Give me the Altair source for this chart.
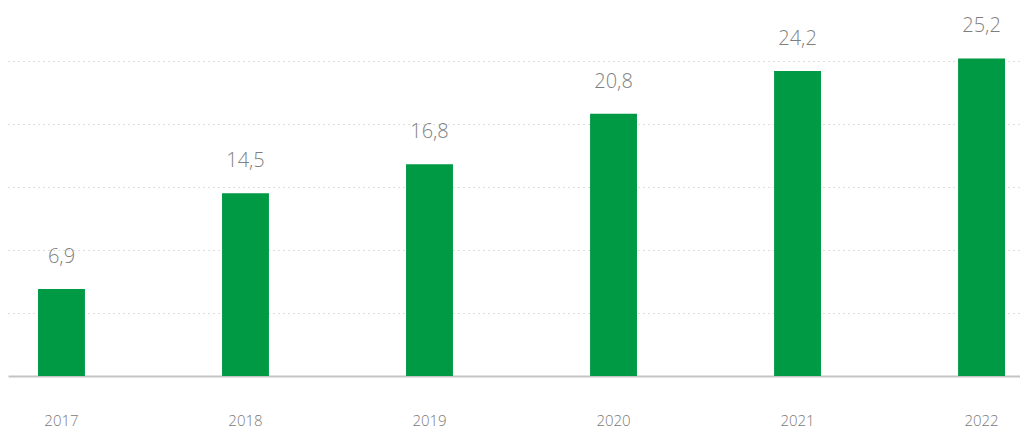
import altair as alt
import pandas as pd

years = ["2017", "2018", "2019", "2020", "2021", "2022"]
values = [6.9, 14.5, 16.8, 20.8, 24.2, 25.2]
labels = ["6,9", "14,5", "16,8", "20,8", "24,2", "25,2"]
grid_ticks = [5, 10, 15, 20, 25]

df = pd.DataFrame({"year": years, "value": values, "label": labels})

x = alt.X("year:N", title=None,
          scale=alt.Scale(paddingInner=0.745, paddingOuter=0.1223, align=0.667),
          axis=alt.Axis(labelAngle=0, ticks=False, domain=True, domainColor="#c4c4c4",
                        domainWidth=2, labelPadding=37, labelFontSize=15,
                        labelFontWeight=300,
                        labelColor="#7a7a7a", labelFont="Open Sans", grid=False))
y = alt.Y("value:Q", title=None,
          scale=alt.Scale(domain=[0, 29.2], nice=False, zero=True),
          axis=alt.Axis(values=grid_ticks, labels=False, ticks=False, domain=False,
                        grid=True, gridColor="#bdbdbd", gridDash=[1, 4], gridWidth=1))

base = alt.Chart(df)
bars = base.mark_bar(color="#009A44").encode(x=x, y=y)
text = base.mark_text(baseline="bottom", dy=-22, fontSize=20, color="#7f7f7f",
                      font="Open Sans", fontWeight=300).encode(
    x=alt.X("year:N"), y=alt.Y("value:Q"), text="label:N")

chart = (bars + text).properties(width=1012, height=368, padding=0).configure_view(stroke=None)
chart.save("out.html", embed_options={"renderer": "svg", "actions": False})
